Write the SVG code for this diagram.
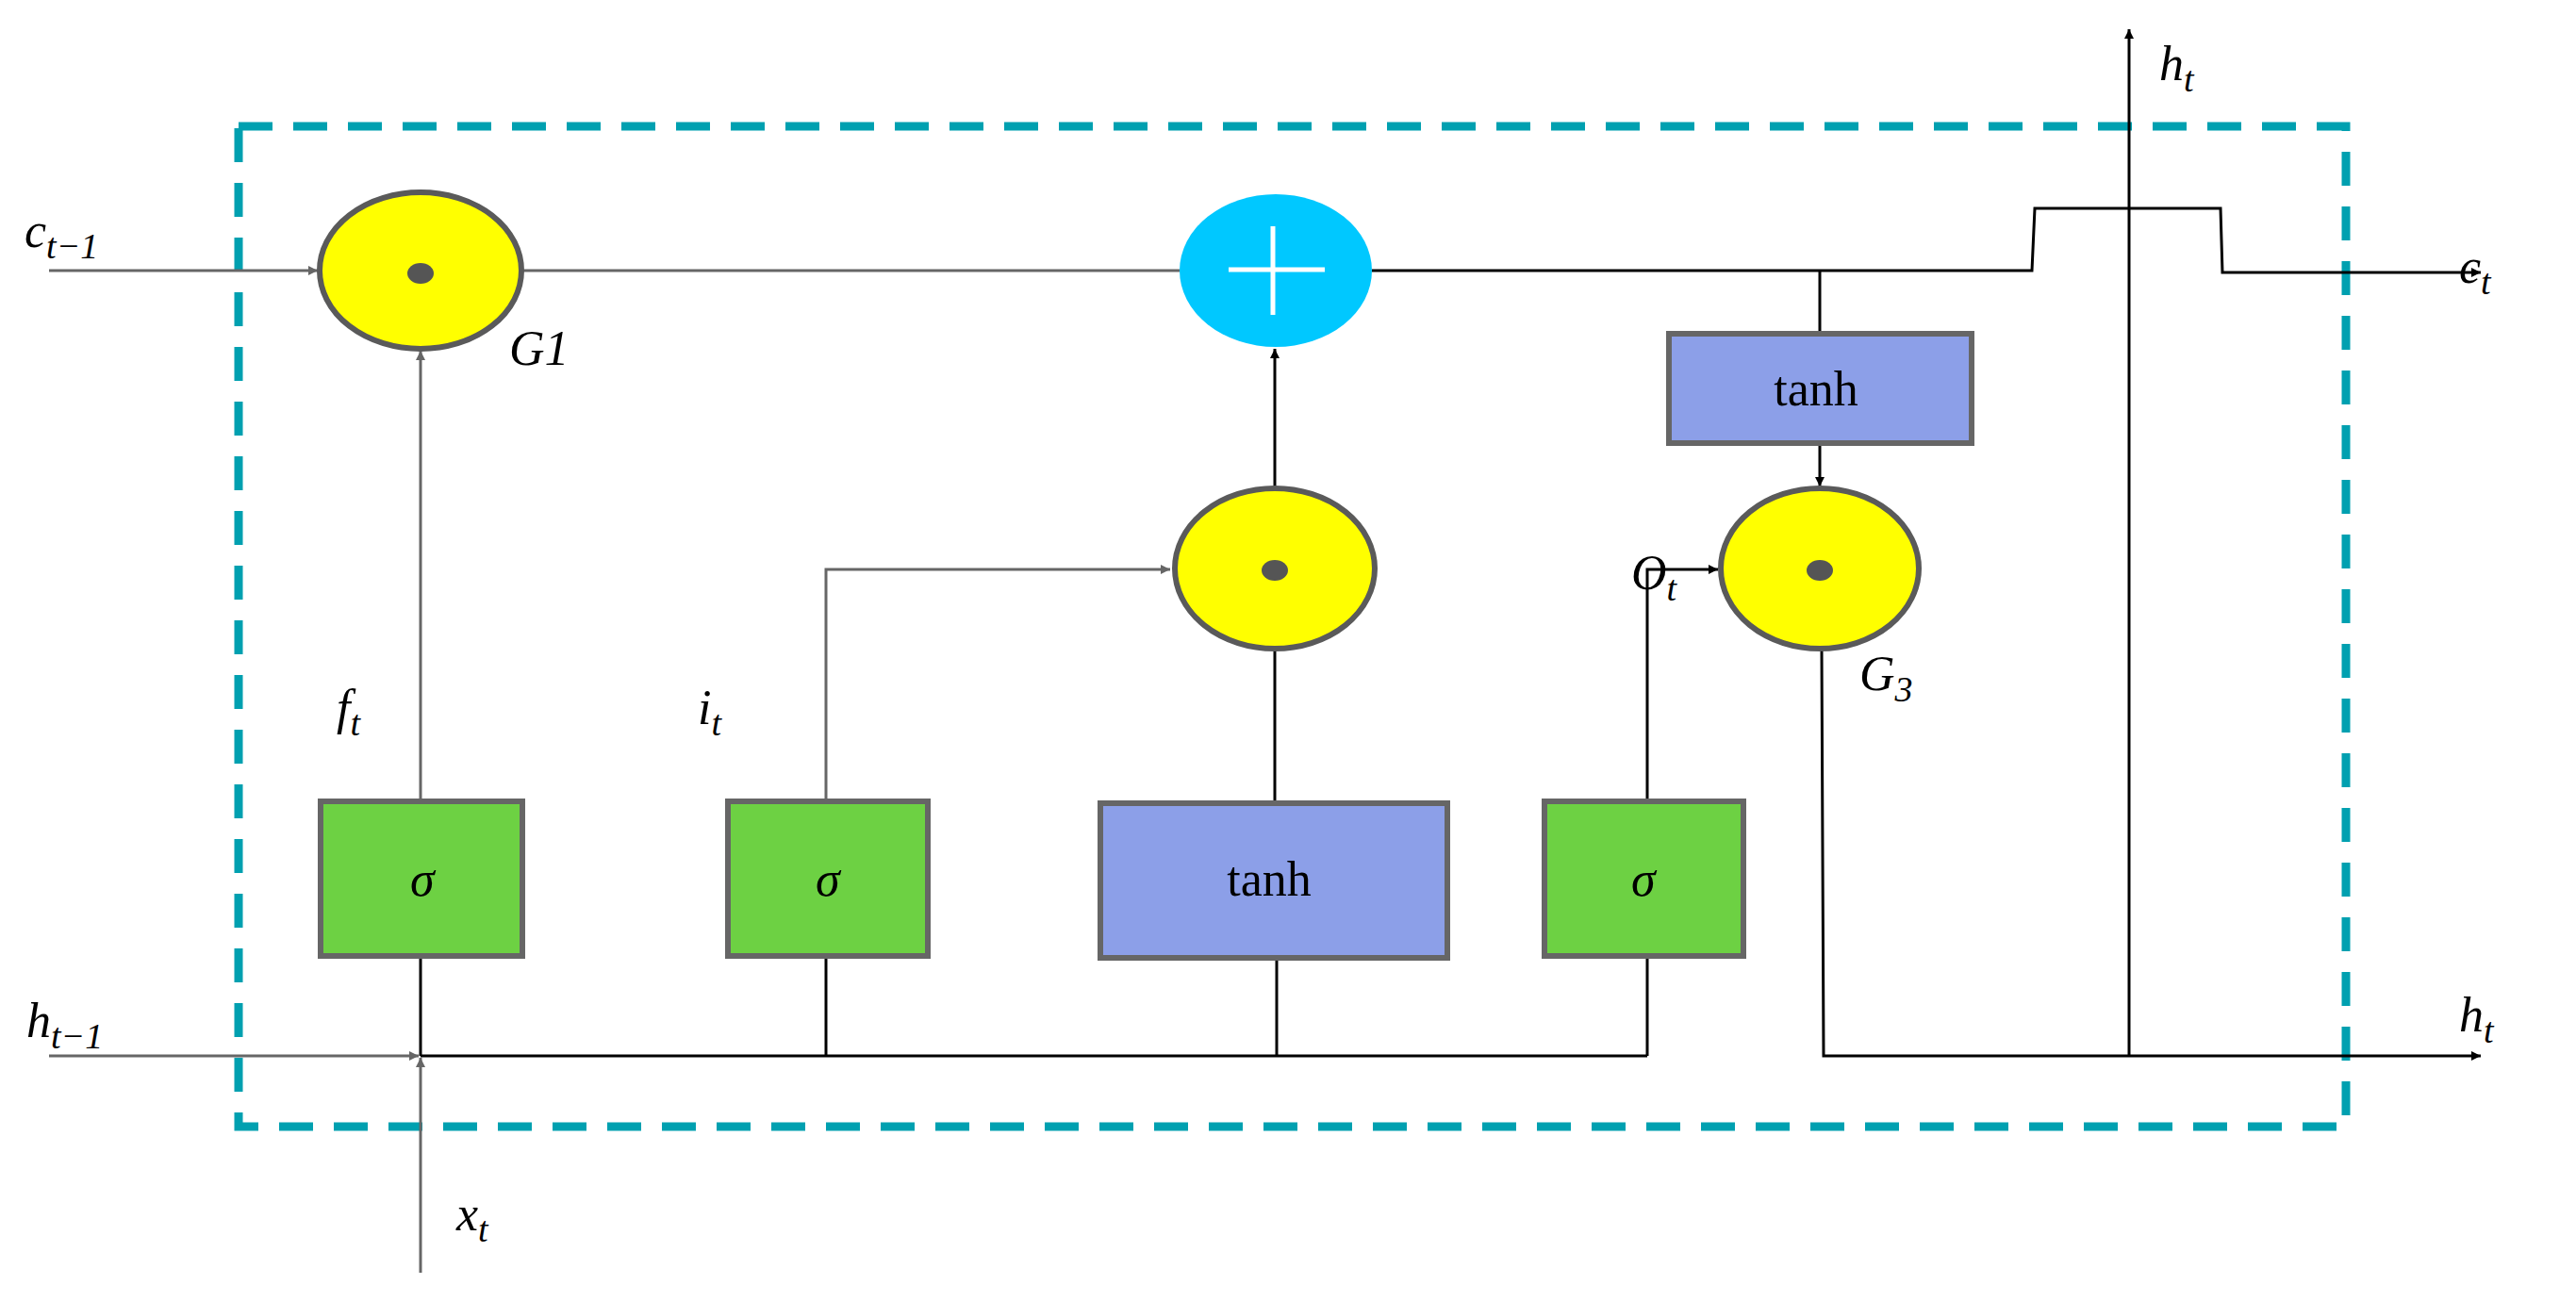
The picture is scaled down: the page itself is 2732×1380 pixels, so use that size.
<svg xmlns="http://www.w3.org/2000/svg" width="2732" height="1380" viewBox="0 0 2732 1380">
<defs>
<marker id="ag" viewBox="0 0 10 10" refX="10" refY="5" markerWidth="10" markerHeight="10" markerUnits="userSpaceOnUse" orient="auto"><path d="M0,0 L10,5 L0,10 z" fill="#666"/></marker>
<marker id="ab" viewBox="0 0 10 10" refX="10" refY="5" markerWidth="10" markerHeight="10" markerUnits="userSpaceOnUse" orient="auto"><path d="M0,0 L10,5 L0,10 z" fill="#000"/></marker>
<style>
.g{stroke:#666;stroke-width:3;fill:none}
.b{stroke:#000;stroke-width:3;fill:none}
.y{fill:#ffff00;stroke:#5a5a5a;stroke-width:6}
.gr{fill:#6dd143;stroke:#666;stroke-width:6}
.bl{fill:#8c9fe8;stroke:#666;stroke-width:6}
.m{font-family:"Liberation Serif",serif;font-style:italic;font-size:52px;fill:#000}
.s{font-size:38px}
.t{font-family:"Liberation Serif",serif;font-size:52px;fill:#000;text-anchor:middle}
</style>
</defs>
<rect x="253" y="134" width="2235" height="1061" fill="none" stroke="#00a0b0" stroke-width="9" stroke-dasharray="36,22"/>
<g id="connectors">
<line class="g" x1="52" y1="287" x2="337" y2="287" marker-end="url(#ag)" style="stroke-width:3"/>
<line class="g" x1="554" y1="287" x2="1251" y2="287"/>
<polyline class="b" points="1455,287 2155,287 2158,221 2355,221 2357,289 2631,289" marker-end="url(#ab)"/>
<line class="b" x1="1930" y1="287" x2="1930" y2="354"/>
<line class="b" x1="1930" y1="470" x2="1930" y2="516" marker-end="url(#ab)"/>
<line class="b" x1="2258" y1="1120" x2="2258" y2="31" marker-end="url(#ab)"/>
<line class="g" x1="52" y1="1120" x2="444" y2="1120" marker-end="url(#ag)"/>
<line class="b" x1="446" y1="1120" x2="1747" y2="1120"/>
<line class="b" x1="446" y1="1014" x2="446" y2="1120"/>
<line class="b" x1="876" y1="1014" x2="876" y2="1120"/>
<line class="b" x1="1354" y1="1016" x2="1354" y2="1120"/>
<line class="b" x1="1747" y1="1014" x2="1747" y2="1120"/>
<polyline class="b" points="1932,688 1934,1120 2631,1120" marker-end="url(#ab)"/>
<line class="g" x1="446" y1="1350" x2="446" y2="1122" marker-end="url(#ag)"/>
<line class="g" x1="446" y1="850" x2="446" y2="372" marker-end="url(#ag)"/>
<polyline class="g" points="876,850 876,604 1241,604" marker-end="url(#ag)"/>
<line class="b" x1="1352" y1="852" x2="1352" y2="688"/>
<line class="b" x1="1352" y1="518" x2="1352" y2="370" marker-end="url(#ab)"/>
<polyline class="b" points="1747,850 1747,604 1822,604" marker-end="url(#ab)"/>
</g>
<g id="G1"><ellipse class="y" cx="446" cy="287" rx="107" ry="83"/><ellipse cx="446" cy="290" rx="14" ry="11" fill="#555"/></g>
<g id="plus"><ellipse cx="1353" cy="287" rx="102" ry="81" fill="#00c8ff"/><path d="M1303,286 H1405 M1350,240 V334" stroke="#fff" stroke-width="5"/></g>
<g id="G2"><ellipse class="y" cx="1352" cy="603" rx="106" ry="85"/><ellipse cx="1352" cy="605" rx="14" ry="11" fill="#555"/></g>
<g id="G3"><ellipse class="y" cx="1930" cy="603" rx="105" ry="85"/><ellipse cx="1930" cy="605" rx="14" ry="11" fill="#555"/></g>
<g id="sig1"><rect class="gr" x="340" y="850" width="214" height="164"/><text class="m" x="435" y="950">σ</text></g>
<g id="sig2"><rect class="gr" x="772" y="850" width="212" height="164"/><text class="m" x="865" y="950">σ</text></g>
<g id="tanh1"><rect class="bl" x="1167" y="852" width="368" height="164"/><text class="t" x="1346" y="950">tanh</text></g>
<g id="sig3"><rect class="gr" x="1638" y="850" width="211" height="164"/><text class="m" x="1730" y="950">σ</text></g>
<g id="tanh2"><rect class="bl" x="1770" y="354" width="321" height="116"/><text class="t" x="1926" y="430">tanh</text></g>
<g id="labels">
<text class="m" x="26" y="262">c<tspan class="s" dy="12">t−1</tspan></text>
<text class="m" x="540" y="387">G1</text>
<text class="m" x="357" y="768">f<tspan class="s" dy="12">t</tspan></text>
<text class="m" x="740" y="768">i<tspan class="s" dy="12">t</tspan></text>
<text class="m" x="1730" y="625">O<tspan class="s" dy="12">t</tspan></text>
<text class="m" x="1972" y="732">G<tspan class="s" dy="12">3</tspan></text>
<text class="m" x="2290" y="85">h<tspan class="s" dy="12">t</tspan></text>
<text class="m" x="2608" y="300">c<tspan class="s" dy="12">t</tspan></text>
<text class="m" x="28" y="1100">h<tspan class="s" dy="12">t−1</tspan></text>
<text class="m" x="2608" y="1094">h<tspan class="s" dy="12">t</tspan></text>
<text class="m" x="484" y="1305">x<tspan class="s" dy="12">t</tspan></text>
</g>
</svg>
